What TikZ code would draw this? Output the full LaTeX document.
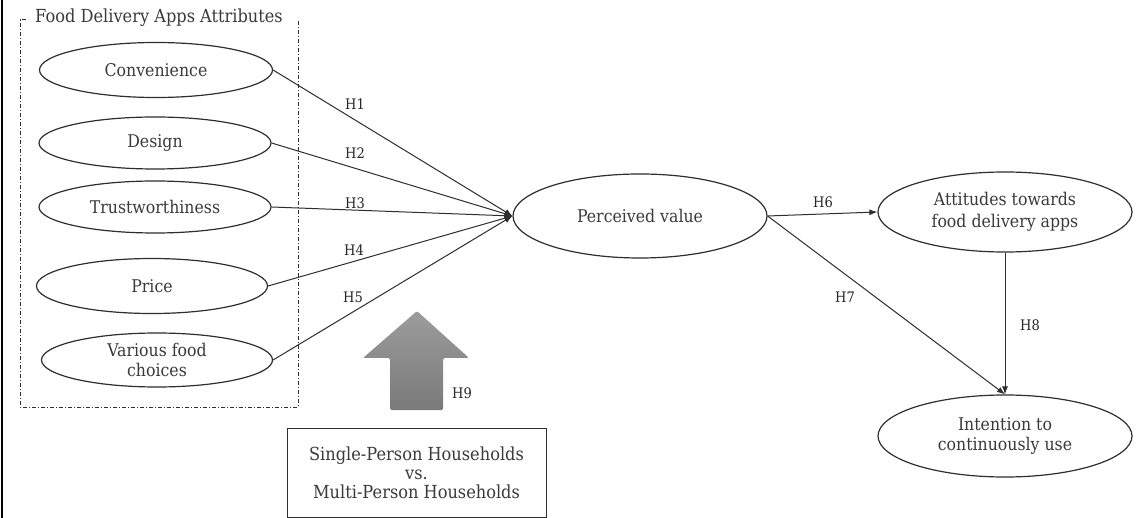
\documentclass[tikz,border=0pt]{standalone}
\usepackage{fontspec}
\setmainfont{DejaVu Serif}[FakeStretch=0.9]
\usetikzlibrary{shapes.geometric,arrows.meta}
\definecolor{ink}{HTML}{2E2E2E}
\definecolor{txt}{HTML}{3A3A3A}
\definecolor{arrowtop}{HTML}{9C9C9C}
\definecolor{arrowbot}{HTML}{7A7A7A}

\begin{document}
\begin{tikzpicture}[x=1pt,y=-1pt,
  oval/.style={ellipse,draw=ink,line width=1.2pt,inner sep=0pt,text=txt,
    font=\fontsize{17.5}{20}\selectfont,align=center},
  link/.style={draw=ink,line width=1pt,-{Latex[length=8pt,width=6pt]}},
  hlabel/.style={text=black!85,font=\fontsize{14.5}{16}\selectfont,inner sep=0pt},
]
\useasboundingbox (0,0) rectangle (1140,518);
\fill[white] (0,0) rectangle (1140,518);

% page rule on the left
\draw[black,line width=2.6pt] (2,0) -- (2,518);

% frame around the app attributes
\draw[ink,line width=1pt,dash pattern=on 4pt off 2pt on 1pt off 2pt]
  (26,20) -- (20,20) -- (20,407) -- (298,407) -- (298,20);
\node[anchor=west,text=txt,font=\fontsize{18}{20}\selectfont,inner sep=0pt]
  (grp) at (35,18) {Food Delivery Apps Attributes};

% attribute constructs
\node[oval,minimum width=233pt,minimum height=55pt] (conv)  at (156,70)  {Convenience};
\node[oval,minimum width=232pt,minimum height=52pt] (des)   at (155,143) {Design};
\node[oval,minimum width=232pt,minimum height=52pt] (trust) at (155,207) {Trustworthiness};
\node[oval,minimum width=231pt,minimum height=55pt] (price) at (152,286) {Price};
\node[oval,minimum width=231pt,minimum height=54pt] (var)   at (157,360) {Various food\\choices};

% outcome constructs
\node[oval,minimum width=254pt,minimum height=84pt] (pv)  at (640,216)  {Perceived value};
\node[oval,minimum width=254pt,minimum height=80pt,font=\fontsize{17.5}{22}\selectfont]
  (att) at (1005,212) {Attitudes towards\\food delivery apps};
\node[oval,minimum width=254pt,minimum height=82pt] (int) at (1005,436) {Intention to\\continuously use};

% household type moderator
\node[draw=ink,line width=1pt,minimum width=259pt,minimum height=89pt,text=txt,
  font=\fontsize{18}{19}\selectfont,align=center] (hh) at (416.5,472.5)
  {Single-Person Households\\vs.\\Multi-Person Households};
\shade[top color=arrowtop,bottom color=arrowbot,rounded corners=1.5pt]
  (417,311) -- (469,358) -- (443,358) -- (443,410) -- (390,410) -- (390,358) -- (363,358) -- cycle;

% hypothesised paths
\draw[link] (conv.east)  -- (pv.west);
\draw[link] (des.east)   -- (pv.west);
\draw[link] (trust.east) -- (pv.west);
\draw[link] (price.east) -- (pv.west);
\draw[link] (var.east)   -- (pv.west);
\draw[link] (pv.east) -- (att.west);
\draw[link] (pv.east) -- (int.north);
\draw[link] (att.south) -- (int.north);

% hypothesis labels
\node[hlabel] (h1) at (355,104) {H1};
\node[hlabel] (h2) at (355,153) {H2};
\node[hlabel] (h3) at (355,203) {H3};
\node[hlabel] (h4) at (354,250) {H4};
\node[hlabel] (h5) at (353,297) {H5};
\node[hlabel] (h6) at (823,202) {H6};
\node[hlabel] (h7) at (845,297) {H7};
\node[hlabel] (h8) at (1030,325) {H8};
\node[hlabel] (h9) at (462,393) {H9};
\end{tikzpicture}
\end{document}
